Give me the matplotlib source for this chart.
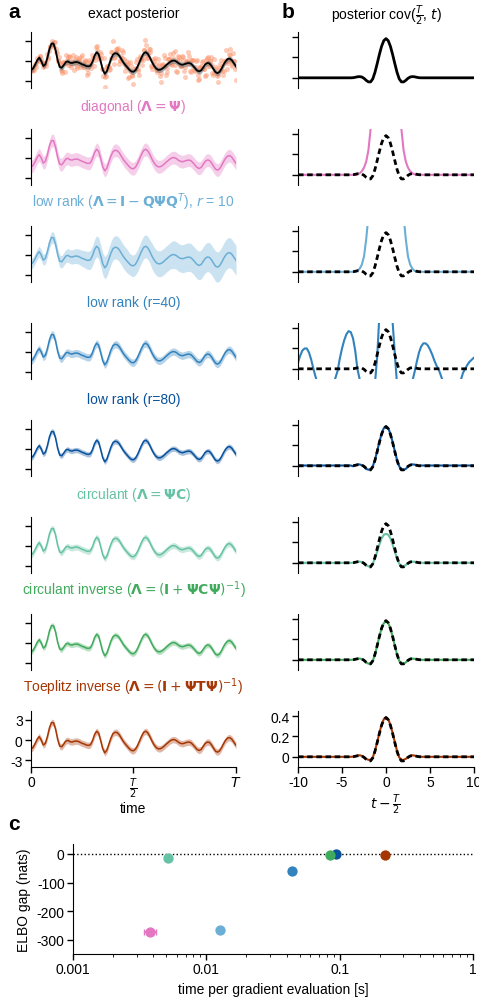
import numpy as np
import matplotlib
matplotlib.use("Agg")
import matplotlib.pyplot as plt

plt.rcParams["font.family"] = ["Liberation Sans", "DejaVu Sans"]
plt.rcParams["mathtext.fontset"] = "dejavusans"
plt.rcParams["axes.unicode_minus"] = False
plt.rcParams["font.size"] = 10

# ---- data ----
# posterior mean over time (t in % of T, step 1)
time = np.arange(101)
post_mean = [
    -1.35, -1.1, -0.55, 0.1, 0.5, 0.0, -0.75, -0.5, 0.5, 1.8,
    2.6, 2.55, 1.6, 0.1, -0.9, -1.0, -0.6, -0.15, -0.05, -0.25,
    -0.3, -0.2, -0.15, -0.2, -0.35, -0.5, -0.6, -0.75, -0.8, -0.7,
    -0.1, 0.8, 1.3, 1.0, -0.1, -1.3, -1.9, -1.5, -0.6, 0.3,
    0.95, 1.15, 1.1, 0.8, 0.3, -0.2, -0.6, -0.95, -1.3, -1.55,
    -1.6, -1.35, -0.8, -0.1, 0.6, 1.15, 1.3, 1.05, 0.5, -0.15,
    -0.7, -1.1, -1.3, -1.3, -1.15, -0.9, -0.6, -0.35, -0.1, 0.05,
    0.05, -0.1, -0.35, -0.5, -0.55, -0.45, -0.35, -0.3, -0.4, -0.7,
    -1.05, -1.4, -1.55, -1.4, -0.95, -0.5, -0.3, -0.35, -0.7, -1.2,
    -1.65, -1.8, -1.6, -1.1, -0.5, 0.0, 0.3, 0.35, 0.1, -0.35,
    -0.8,
]

# observations, as offsets from the mean (at t and t + 0.5)
obs_resid_a = [
    0.2, -0.3, 0.1, 0.4, -0.2, 0.3, -0.1, 0.2, 0.5, -0.3, 0.3, -0.4, 0.2, -0.1,
    0.6, -0.8, 0.4, 1.1, -0.5, 0.9, 0.3, -1.2, 0.7, 0.2, -0.6, 1.4, -0.3, 0.8,
    -1.0, 0.5, 1.0, -0.7, 0.9, -0.4, 1.2, -0.9, -1.9, 0.6, -0.8, 1.1, 2.0, -0.5,
    0.7, -1.3, 0.4, 1.5, -0.9, 0.3, -1.1, 0.8, -1.8, 1.2, -0.4, 0.9, -1.2, 0.5,
    1.0, -0.6, 1.3, -1.0, 0.7, -0.3, 1.6, -0.9, 0.5, 1.8, -1.4, 0.6, 1.1, -0.7,
    1.4, -1.6, 0.9, -0.3, 1.2, -1.9, 0.4, 1.0, -1.2, 0.8, -0.5, 1.5, -1.1, 0.6,
    1.0, -1.7, 0.8, -0.4, 1.3, -0.9, 0.5, -1.3, 1.1, 0.3, -1.0, 1.6, -0.6, 1.5,
    -0.8, 0.4, -2.0,
]
obs_resid_b = [
    -0.2, 0.3, -0.4, 0.1, 0.3, -0.2, 0.4, -0.3, 0.1, 0.4, -0.2, 0.2, -0.4, 0.5,
    -0.4, 0.9, -1.1, 0.3, 0.8, -0.6, 1.2, -0.2, -0.9, 0.6, 1.0, -0.4, 0.5, -1.3,
    0.9, 0.2, -0.7, 1.3, -0.5, 0.4, -1.1, 1.7, -0.3, 0.8, -0.6, 1.0, -1.4, 0.2,
    0.9, -0.8, 1.3, -0.2, 0.6, -1.5, 1.1, -0.7, 0.4, 1.6, -1.2, 0.3, -0.5, 1.9,
    -0.8, 0.7, -1.3, 0.5, 1.2, -0.6, 0.9, -1.8, 0.4, 1.4, -1.0, 0.6, -0.2, 1.1,
    -1.5, 0.8, -0.4, 1.3, -0.9, 0.3, 1.7, -1.2, 0.5, -0.7, 1.0, -1.4, 0.6, 1.2,
    -0.3, -1.6, 0.9, 0.4, -1.1, 1.5, -0.5, 0.7, 1.8, -1.0, 0.2, -1.2, 0.8, -0.3,
    1.1, -0.9,
]
# a third, tighter set of observations close to the mean
obs_resid_c = [
    0.1, -0.2, 0.2, -0.1, 0.3, -0.3, 0.1, 0.2, -0.2, 0.3, -0.1, 0.2, -0.3, 0.1,
    0.4, -0.5, 0.3, -0.2, 0.6, -0.4, 0.2, 0.5, -0.6, 0.3, -0.3, 0.4, 0.7, -0.5,
    0.2, -0.4, 0.6, -0.2, 0.3, -0.7, 0.5, 0.1, -0.4, 0.8, -0.3, 0.2, -0.5, 0.6,
    0.4, -0.6, 0.1, 0.5, -0.3, 0.7, -0.2, -0.5, 0.4, 0.3, -0.7, 0.6, -0.1, 0.5,
    -0.4, 0.2, 0.8, -0.6, 0.3, -0.2, 0.5, -0.5, 0.7, 0.1, -0.4, 0.6, -0.3, 0.4,
    -0.6, 0.2, 0.5, -0.2, 0.7, -0.5, 0.3, -0.1, 0.6, -0.4, 0.2, -0.7, 0.5, 0.3,
    -0.3, 0.6, -0.5, 0.4, 0.1, -0.6, 0.8, -0.2, 0.3, -0.4, 0.5, 0.2, -0.3, 0.6,
    -0.5, 0.3,
]

# half width of the credible band in each row
band_exact = 0.4
band_diag = 0.95
band_r10 = [
    0.75, 0.75, 0.75, 0.78, 0.8, 0.8, 0.8, 0.82, 0.82, 0.85,
    0.85, 0.85, 0.88, 0.9, 0.9, 0.92, 0.95, 0.98, 1.0, 1.02,
    1.05, 1.08, 1.1, 1.12, 1.15, 1.2, 1.25, 1.3, 1.35, 1.4,
    1.45, 1.5, 1.55, 1.6, 1.6, 1.62, 1.65, 1.65, 1.68, 1.7,
    1.7, 1.72, 1.75, 1.75, 1.75, 1.75, 1.75, 1.75, 1.6, 1.6,
    1.6, 1.62, 1.65, 1.65, 1.68, 1.7, 1.7, 1.72, 1.75, 1.9,
    1.9, 1.9, 1.92, 1.92, 1.95, 1.95, 1.95, 1.95, 1.95, 2.05,
    2.05, 2.05, 2.05, 2.05, 2.05, 2.1, 2.1, 2.1, 2.1, 2.1,
    2.1, 2.12, 2.12, 2.15, 2.15, 2.15, 2.15, 2.2, 2.2, 2.2,
    2.25, 2.25, 2.25, 2.25, 2.25, 2.25, 2.25, 2.25, 2.2, 2.2,
    2.2,
]
band_r40 = 0.55
band_r80 = 0.4
band_circ = 0.45
band_circinv = 0.4
band_toep = 0.48

# posterior covariance cov(T/2, t) around the centre
lag_c = np.arange(-4, 4.01, 0.25)
lag_pad = np.concatenate([[-10], lag_c, [10]])
cov_exact = [
    0.0, 0.001, 0.005, 0.01, 0.012, 0.008, -0.005, -0.025, -0.04, -0.04,
    -0.01, 0.055, 0.14, 0.23, 0.31, 0.365, 0.385, 0.365, 0.31, 0.23,
    0.14, 0.055, -0.01, -0.04, -0.04, -0.025, -0.005, 0.008, 0.012, 0.01,
    0.005, 0.001, 0.0,
]
cov_diag = [
    0.0, 0.0, 0.0, 0.005, 0.015, 0.035, 0.07, 0.13, 0.24, 0.45,
    0.9, 1.5, 2.0, 2.4, 2.7, 2.9, 3.0, 2.9, 2.7, 2.4,
    2.0, 1.5, 0.9, 0.45, 0.24, 0.13, 0.07, 0.035, 0.015, 0.005,
    0.0, 0.0, 0.0,
]
cov_r10 = [
    0.0, 0.0, 0.0, 0.01, 0.03, 0.07, 0.15, 0.32, 0.55, 0.9,
    1.3, 1.8, 2.2, 2.6, 2.9, 3.0, 3.0, 3.0, 2.9, 2.6,
    2.2, 1.8, 1.3, 0.9, 0.55, 0.32, 0.15, 0.07, 0.03, 0.01,
    0.0, 0.0, 0.0,
]
lag_full = np.arange(-10, 10.01, 0.25)
cov_r40 = [
    0.06, 0.13, 0.18, 0.2, 0.2, 0.16, 0.09, 0.0, -0.08, -0.15,
    -0.25, -0.33, -0.38, -0.4, -0.35, -0.25, -0.15, -0.09, -0.02, 0.1,
    0.2, 0.28, 0.34, 0.37, 0.36, 0.3, 0.18, 0.0, -0.1, -0.25,
    -0.35, -0.4, -0.4, -0.35, -0.25, -0.14, 0.12, 0.53, 1.0, 1.4,
    1.5, 1.4, 0.78, 0.46, 0.15, -0.15, -0.35, -0.45, -0.5, -0.48,
    -0.4, -0.25, -0.12, -0.03, 0.07, 0.16, 0.22, 0.25, 0.25, 0.23,
    0.19, 0.14, 0.08, 0.03, -0.01, -0.07, -0.13, -0.2, -0.28, -0.33,
    -0.35, -0.3, -0.25, -0.18, -0.11, -0.04, 0.0, 0.04, 0.07, 0.09,
    0.11,
]
cov_r80 = [
    0.003, -0.004, 0.004, 0.012, 0.014, 0.006, -0.008, -0.03, -0.038, -0.035,
    -0.005, 0.06, 0.145, 0.235, 0.315, 0.37, 0.39, 0.37, 0.315, 0.235,
    0.145, 0.06, -0.005, -0.035, -0.038, -0.03, -0.008, 0.006, 0.014, 0.012,
    0.004, -0.004, 0.003,
]
cov_circ = [
    0.0, 0.001, 0.005, 0.01, 0.012, 0.008, -0.004, -0.022, -0.035, -0.033,
    -0.008, 0.045, 0.11, 0.18, 0.24, 0.275, 0.285, 0.275, 0.24, 0.18,
    0.11, 0.045, -0.008, -0.033, -0.035, -0.022, -0.004, 0.008, 0.012, 0.01,
    0.005, 0.001, 0.0,
]
cov_circinv = [
    0.0, 0.001, 0.005, 0.01, 0.012, 0.008, -0.005, -0.025, -0.038, -0.038,
    -0.01, 0.055, 0.14, 0.23, 0.31, 0.36, 0.38, 0.36, 0.31, 0.23,
    0.14, 0.055, -0.01, -0.038, -0.038, -0.025, -0.005, 0.008, 0.012, 0.01,
    0.005, 0.001, 0.0,
]
cov_toep = [
    0.0, 0.002, 0.006, 0.012, 0.015, 0.01, -0.003, -0.02, -0.03, -0.03,
    -0.005, 0.06, 0.145, 0.235, 0.315, 0.37, 0.39, 0.37, 0.315, 0.235,
    0.145, 0.06, -0.005, -0.03, -0.03, -0.02, -0.003, 0.01, 0.015, 0.012,
    0.006, 0.002, 0.0,
]

# panel c: timing and ELBO gap
method_time = [0.0038, 0.0127, 0.044, 0.094, 0.0052, 0.085, 0.22]
method_gap = [-272, -265, -60, 0, -15, -2, -5]
diag_time_err = 0.0004

names = [
    r"diagonal ($\mathbf{\Lambda} = \mathbf{\Psi}$)",
    r"low rank ($\mathbf{\Lambda} = \mathbf{I} - \mathbf{Q}\mathbf{\Psi}\mathbf{Q}^T$), $r$ = 10",
    "low rank (r=40)",
    "low rank (r=80)",
    r"circulant ($\mathbf{\Lambda} = \mathbf{\Psi}\mathbf{C}$)",
    r"circulant inverse ($\mathbf{\Lambda} = (\mathbf{I} + \mathbf{\Psi}\mathbf{C}\mathbf{\Psi})^{-1}$)",
    r"Toeplitz inverse ($\mathbf{\Lambda} = (\mathbf{I} + \mathbf{\Psi}\mathbf{T}\mathbf{\Psi})^{-1}$)",
]
colors = ["#e377c2", "#6baed6", "#3182bd", "#08519c", "#66c2a4", "#41ab5d", "#a63603"]

# ---- figure ----
W, H = 479, 1003
fig = plt.figure(figsize=(W / 100, H / 100), dpi=100)


def add_ax(left, top, width, height):
    return fig.add_axes([left / W, 1 - (top + height) / H, width / W, height / H])


def style_row(ax, bottom):
    for s in ["top", "right"]:
        ax.spines[s].set_visible(False)
    ax.tick_params(direction="out", length=4, width=1, pad=2)
    if not bottom:
        ax.spines["bottom"].set_visible(False)
        ax.set_xticks([])
        ax.set_yticklabels([])


mean = np.array(post_mean)
bands = [band_diag, np.array(band_r10), band_r40, band_r80,
         band_circ, band_circinv, band_toep]
covs = [(lag_c, cov_diag), (lag_c, cov_r10), (lag_full, cov_r40),
        (lag_c, cov_r80), (lag_c, cov_circ), (lag_c, cov_circinv),
        (lag_c, cov_toep)]
cov_ex = np.concatenate([[0], cov_exact, [0]])

row_top0, row_step, row_h = 33, 97, 56
for i in range(8):
    top = row_top0 + row_step * i
    bottom = i == 7
    axa = add_ax(31, top, 205, row_h)
    axb = add_ax(298, top, 176, row_h)

    if i == 0:
        for resid, off in [(obs_resid_a, 0.0), (obs_resid_b, 0.5), (obs_resid_c, 0.25)]:
            t_obs = np.arange(len(resid)) + off
            axa.scatter(t_obs, mean[:len(resid)] + np.array(resid), s=13,
                        color="#fc8d62", alpha=0.45, lw=0, zorder=1)
        axa.fill_between(time, mean - band_exact, mean + band_exact,
                         color="0.45", alpha=0.6, lw=0, zorder=2)
        axa.plot(time, mean, color="black", lw=1.3, zorder=3)
        axb.plot(lag_pad, cov_ex, color="black", lw=2)
        axa.set_title("exact posterior", fontsize=10, pad=11)
        axb.set_title(r"posterior cov($\frac{T}{2}$, $t$)", fontsize=10, pad=9)
    else:
        c = colors[i - 1]
        hw = bands[i - 1]
        axa.fill_between(time, mean - hw, mean + hw, color=c, alpha=0.35, lw=0)
        axa.plot(time, mean, color=c, lw=1.1)
        lx, ly = covs[i - 1]
        if lx is lag_c:
            lx = lag_pad
            ly = np.concatenate([[ly[0]], ly, [ly[-1]]])
        axb.plot(lx, ly, color=c, lw=1.5)
        axb.plot(lag_pad, cov_ex, color="black", lw=2, ls=(0, (2, 1.3)))
        axa.text(0.5, 1.25, names[i - 1], transform=axa.transAxes,
                 ha="center", va="bottom", color=c, fontsize=10)

    axa.set_xlim(0, 100)
    axa.set_ylim(-4, 4.3)
    axa.set_yticks([-3, 0, 3])
    axb.set_xlim(-10, 10)
    axb.set_ylim(-0.1, 0.45)
    axb.set_yticks([0, 0.2, 0.4])
    style_row(axa, bottom)
    style_row(axb, bottom)
    if bottom:
        axa.set_yticklabels(["-3", "0", "3"])
        axa.set_xticks([0, 50, 100])
        axa.set_xticklabels(["0", r"$\frac{T}{2}$", r"$T$"])
        axa.set_xlabel("time", labelpad=1)
        axb.set_yticklabels(["0", "0.2", "0.4"])
        axb.set_xticks([-10, -5, 0, 5, 10])
        axb.set_xticklabels(["-10", "-5", "0", "5", "10"])
        axb.set_xlabel(r"$t - \frac{T}{2}$", labelpad=2)

# panel c
axc = add_ax(73, 845, 400, 110)
axc.axhline(0, color="black", ls=":", lw=1, zorder=1)
for j in range(len(method_time)):
    axc.scatter(method_time[j], method_gap[j], s=55, color=colors[j],
                zorder=3, lw=0)
axc.errorbar(method_time[0], method_gap[0], xerr=diag_time_err, fmt="none",
             ecolor=colors[0], elinewidth=1.5, capsize=2, zorder=2)
axc.set_xscale("log")
axc.set_xlim(0.001, 1)
axc.set_ylim(-350, 35)
axc.set_yticks([0, -100, -200, -300])
axc.set_yticklabels(["0", "-100", "-200", "-300"])
axc.set_xticks([0.001, 0.01, 0.1, 1])
axc.set_xticklabels(["0.001", "0.01", "0.1", "1"])
for s in ["top", "right"]:
    axc.spines[s].set_visible(False)
axc.tick_params(direction="out", length=4, width=1, pad=2)
axc.tick_params(which="minor", length=2.5)
axc.set_ylabel("ELBO gap (nats)")
axc.set_xlabel("time per gradient evaluation [s]")

for lbl, x, y in [("a", 8, 18), ("b", 282, 18), ("c", 8, 830)]:
    fig.text(x / W, 1 - y / H, lbl, fontsize=15, fontweight="bold",
             va="baseline", ha="left")

fig.savefig("out.png", dpi=100)
